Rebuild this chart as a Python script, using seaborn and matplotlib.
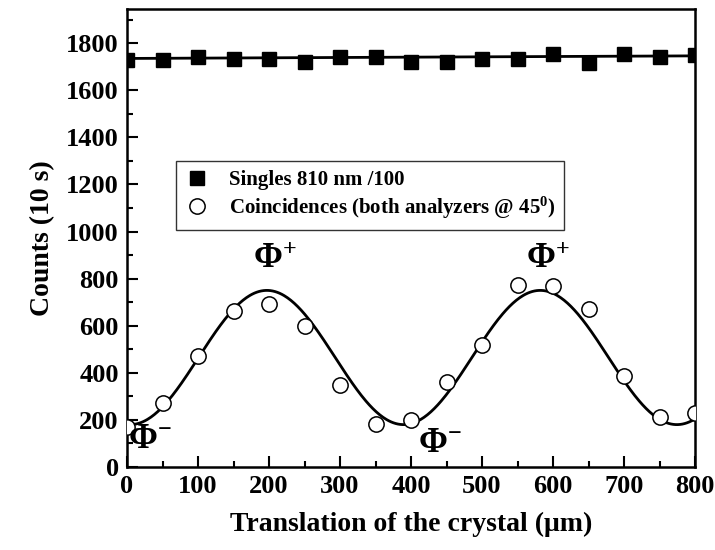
import numpy as np
import pandas as pd
import matplotlib
matplotlib.use("Agg")
import matplotlib.pyplot as plt
import seaborn as sns
from matplotlib.ticker import MultipleLocator

# ---- data ----
x_pos = [0, 50, 100, 150, 200, 250, 300, 350, 400, 450, 500, 550, 600, 650, 700, 750, 800]
singles = [1730, 1730, 1740, 1733, 1733, 1722, 1740, 1740, 1720, 1720, 1732, 1732, 1752, 1715, 1752, 1742, 1748]
coinc = [170, 273, 471, 662, 693, 598, 349, 181, 198, 363, 519, 771, 767, 669, 386, 211, 229]

# fitted curves (parameters)
singles_fit_ends = [1735, 1746]          # linear fit at x=0 and x=800
cos_offset, cos_amp, cos_period, cos_peak = 465, 285, 385, 197

x_labels = ["0", "100", "200", "300", "400", "500", "600", "700", "800"]
y_ticks = [0, 200, 400, 600, 800, 1000, 1200, 1400, 1600, 1800]

sns.set_theme(style="ticks")
plt.rcParams["font.family"] = ["Liberation Serif", "DejaVu Serif"]
plt.rcParams["font.weight"] = "bold"
plt.rcParams["text.color"] = "black"
plt.rcParams["axes.labelcolor"] = "black"
plt.rcParams["xtick.color"] = "black"
plt.rcParams["ytick.color"] = "black"
plt.rcParams["mathtext.fontset"] = "custom"
plt.rcParams["mathtext.rm"] = "Liberation Serif:bold"
plt.rcParams["mathtext.bf"] = "Liberation Serif:bold"
plt.rcParams["mathtext.it"] = "Liberation Serif:bold:italic"

fig = plt.figure(figsize=(7.15, 5.5), dpi=100)
ax = fig.add_axes([127 / 715, 1 - 467 / 550, (695 - 127) / 715, (467 - 9) / 550])

df = pd.DataFrame({"x": x_pos, "singles": singles, "coinc": coinc})

xf = np.linspace(0, 800, 500)
fit_df = pd.DataFrame({
    "x": xf,
    "sfit": np.interp(xf, [0, 800], singles_fit_ends),
    "cfit": cos_offset + cos_amp * np.cos(2 * np.pi * (xf - cos_peak) / cos_period),
})

sns.lineplot(data=fit_df, x="x", y="sfit", ax=ax, color="black", lw=2, legend=False)
sns.lineplot(data=fit_df, x="x", y="cfit", ax=ax, color="black", lw=2, legend=False)

ax.plot(df["x"], df["singles"], ls="none", marker="s", ms=10, mfc="black", mec="black",
        label="Singles 810 nm /100", zorder=3)
ax.plot(df["x"], df["coinc"], ls="none", marker="o", ms=11, mfc="white", mec="black", mew=1.1,
        label=r"Coincidences (both analyzers @ 45$^{0}$)", zorder=3)

ax.set_xlim(0, 800)
ax.set_ylim(0, 1945)
ax.set_xticks([int(v) for v in x_labels])
ax.set_xticklabels(x_labels)
ax.set_yticks(y_ticks)
ax.xaxis.set_minor_locator(MultipleLocator(50))
ax.yaxis.set_minor_locator(MultipleLocator(100))
ax.tick_params(which="major", direction="in", length=8, width=1.5, labelsize=19, pad=6,
               top=False, right=False, colors="black")
ax.tick_params(which="minor", direction="in", length=4, width=1.5, top=False, right=False,
               colors="black")
for lab in ax.get_xticklabels() + ax.get_yticklabels():
    lab.set_fontweight("bold")
for sp in ax.spines.values():
    sp.set_linewidth(1.8)
    sp.set_color("black")

ax.set_xlabel("Translation of the crystal (μm)", fontsize=20, fontweight="bold", labelpad=10,
              color="black")
ax.set_ylabel("Counts (10 s)", fontsize=20, fontweight="bold", labelpad=8, color="black")

leg = ax.legend(loc="upper left", bbox_to_anchor=(0.068, 0.69), fontsize=15, frameon=True,
                fancybox=False, edgecolor="black", handletextpad=0.9, borderpad=0.42,
                labelspacing=0.22, handlelength=1.2)
leg.get_frame().set_linewidth(1.0)
for t in leg.get_texts():
    t.set_fontweight("bold")
    t.set_color("black")

ann_kw = dict(fontsize=25, fontweight="bold", ha="center", va="center", color="black")
ax.text(208, 880, r"$\Phi^{+}$", **ann_kw)
ax.text(593, 880, r"$\Phi^{+}$", **ann_kw)
ax.text(32, 115, r"$\Phi^{-}$", **ann_kw)
ax.text(441, 100, r"$\Phi^{-}$", **ann_kw)

fig.savefig("out.png", dpi=100)
